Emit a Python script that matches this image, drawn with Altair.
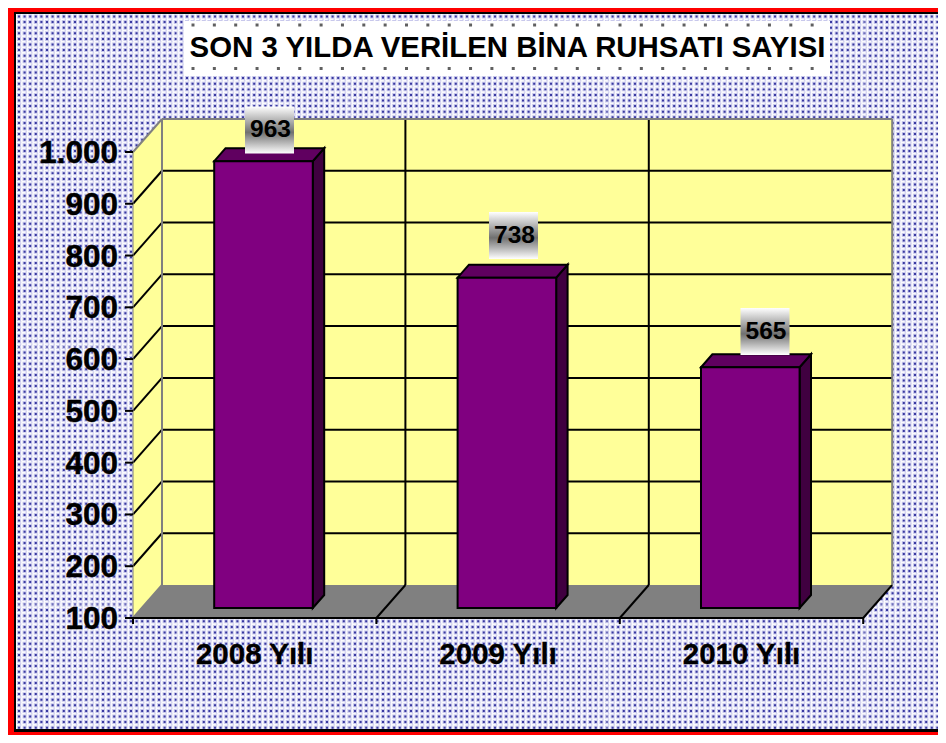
import altair as alt
import pandas as pd

# ---- chart values
years = ["2008 Yılı", "2009 Yılı", "2010 Yılı"]
permits = [963, 738, 565]
value_labels = ["963", "738", "565"]
tick_values = [100, 200, 300, 400, 500, 600, 700, 800, 900, 1000]
tick_labels = ["100", "200", "300", "400", "500", "600", "700", "800", "900", "1.000"]
title_text = "SON 3 YILDA VERİLEN BİNA RUHSATI SAYISI"

# ---- page geometry (image px) and the two scales
W, H = 930, 727
X0, CAT_W = 133.0, 243.4
Y0, PX_PER_VAL = 618.0, 0.5178
DEPTH_X = 29 / CAT_W        # oblique projection of the depth axis, in category units
DEPTH_Y = 33 / PX_PER_VAL   # ... and in value units


def ux(px):
    return (px - X0) / CAT_W


def uy(py):
    return 100 + (Y0 - py) / PX_PER_VAL


xs = alt.Scale(domain=[ux(8), ux(8 + W)], range=[0, W], nice=False, zero=False)
ys = alt.Scale(domain=[uy(8 + H), uy(8)], range=[H, 0], nice=False, zero=False)
X = lambda f="x": alt.X(f"{f}:Q", scale=xs, axis=None)
Y = lambda f="y": alt.Y(f"{f}:Q", scale=ys, axis=None)
X2 = alt.X2("x2:Q")
Y2 = alt.Y2("y2:Q")


def rects(rows, **mk):
    return alt.Chart(pd.DataFrame(rows)).mark_rect(**mk).encode(x=X(), x2=X2, y=Y(), y2=Y2)


def box(l, t, r, b):
    return dict(x=ux(l), x2=ux(r), y=uy(t), y2=uy(b))


def hrules(rows, **mk):
    return alt.Chart(pd.DataFrame(rows)).mark_rule(**mk).encode(x=X(), x2=X2, y=Y())


def vrules(rows, **mk):
    return alt.Chart(pd.DataFrame(rows)).mark_rule(**mk).encode(x=X(), y=Y(), y2=Y2)


def segs(rows, **mk):
    recs = []
    for i, (a, b, c, d) in enumerate(rows):
        recs += [dict(k=i, o=0, x=a, y=b), dict(k=i, o=1, x=c, y=d)]
    return alt.Chart(pd.DataFrame(recs)).mark_line(**mk).encode(
        x=X(), y=Y(), detail="k:N", order="o:Q")


def vpara(rows, **mk):  # vertical-sided parallelograms
    recs = []
    for i, (xa, ya, ya2, xb, yb, yb2) in enumerate(rows):
        recs += [dict(k=i, x=xa, y=ya, y2=ya2), dict(k=i, x=xb, y=yb, y2=yb2)]
    return alt.Chart(pd.DataFrame(recs)).mark_area(orient="vertical", **mk).encode(
        x=X(), y=Y(), y2=Y2, detail="k:N")


def hpara(rows, **mk):  # horizontal-sided parallelograms
    recs = []
    for i, (ya, xa, xa2, yb, xb, xb2) in enumerate(rows):
        recs += [dict(k=i, y=ya, x=xa, x2=xa2), dict(k=i, y=yb, x=xb, x2=xb2)]
    return alt.Chart(pd.DataFrame(recs)).mark_area(orient="horizontal", **mk).encode(
        y=Y(), x=X(), x2=X2, detail="k:N")


RIGHT, BOTTOM = 8 + W, 8 + H
layers = []

# ---- background and frame
layers.append(rects([box(8, 8, RIGHT, BOTTOM)], color="#FAFAFE"))
PITCH = 5.6
lattice = [dict(x=ux(17), x2=ux(RIGHT), y=uy(16.5 + i * PITCH)) for i in range(128)]
stagger = [dict(x=ux(17 + PITCH / 2), x2=ux(RIGHT), y=uy(16.5 + PITCH / 2 + i * PITCH)) for i in range(128)]
layers.append(hrules(lattice, color="#C8C8EC", strokeWidth=4, strokeDash=[4, 1.6]))
layers.append(hrules(stagger, color="#D4D4F0", strokeWidth=1.6, strokeDash=[1.6, 4]))
layers.append(hrules(lattice, color="#3A3AA0", strokeWidth=2, strokeDash=[2, 3.6], strokeDashOffset=-1))
seam_y = [88, 175, 261, 347, 433, 519, 605, 692]
seam_x = [91, 177, 263, 349, 435, 521, 607, 693, 779, 865]
layers.append(hrules([dict(x=ux(16), x2=ux(RIGHT), y=uy(v)) for v in seam_y], color="#FFFFFF", strokeWidth=1, opacity=0.55))
layers.append(vrules([dict(x=ux(v), y=uy(14), y2=uy(732)) for v in seam_x], color="#FFFFFF", strokeWidth=1, opacity=0.55))

layers.append(rects([box(8, 8, 14, BOTTOM), box(8, 8, RIGHT, 12), box(8, BOTTOM - 3, RIGHT, BOTTOM)], color="#FF0000"))
layers.append(rects([box(14, 12, 16, BOTTOM - 3), box(14, 12, RIGHT, 14), box(14, BOTTOM - 6, RIGHT, BOTTOM - 3)], color="#000000"))

# ---- title box
layers.append(rects([box(184, 21, 830, 76)], color="#FFFFFF"))
dot_rows = []
for row_y in (25, 68.5):
    for k in range(30):
        dot_rows.append(dict(x=ux(193 + k * 21.35), y=uy(row_y)))
layers.append(alt.Chart(pd.DataFrame(dot_rows)).mark_point(
    filled=True, color="#606060", size=9, opacity=1, shape="square").encode(x=X(), y=Y()))
layers.append(alt.Chart(pd.DataFrame([dict(x=ux(507.5), y=uy(48), t=title_text)])).mark_text(
    font="Liberation Sans", fontWeight="bold", fontSize=29.4, align="center", baseline="middle", color="#000000"
).encode(x=X(), y=Y(), text="t:N"))

# ---- 3D box: walls, floor, grid
xL, xR = 0.0, float(len(years))
vMin, vMax = tick_values[0], tick_values[-1]
YEL, GRAY = "#FFFF99", "#808080"
GRID_W = 2
layers.append(rects([dict(x=xL + DEPTH_X, x2=xR + DEPTH_X, y=vMin + DEPTH_Y, y2=vMax + DEPTH_Y)], color=YEL))
layers.append(vpara([(xL, vMin, vMax, xL + DEPTH_X, vMin + DEPTH_Y, vMax + DEPTH_Y)], fill=YEL))
layers.append(hpara([(vMin, xL, xR, vMin + DEPTH_Y, xL + DEPTH_X, xR + DEPTH_X)], fill=GRAY))
# wall grid
layers.append(hrules([dict(x=xL + DEPTH_X, x2=xR + DEPTH_X, y=v + DEPTH_Y) for v in tick_values[1:-1]], color="#000000", strokeWidth=GRID_W))
layers.append(segs([(xL, v, xL + DEPTH_X, v + DEPTH_Y) for v in tick_values[1:-1]], color="#000000", strokeWidth=GRID_W))
layers.append(vrules([dict(x=i + DEPTH_X, y=vMin + DEPTH_Y, y2=vMax + DEPTH_Y) for i in (1, 2)], color="#000000", strokeWidth=GRID_W))
layers.append(segs([(i, vMin, i + DEPTH_X, vMin + DEPTH_Y) for i in (1, 2, 3)], color="#000000", strokeWidth=GRID_W))
# wall edges (gray)
layers.append(vrules([dict(x=xL + DEPTH_X, y=vMin + DEPTH_Y, y2=vMax + DEPTH_Y), dict(x=xR + DEPTH_X, y=vMin + DEPTH_Y, y2=vMax + DEPTH_Y)], color=GRAY, strokeWidth=2))
layers.append(hrules([dict(x=xL + DEPTH_X, x2=xR + DEPTH_X, y=vMax + DEPTH_Y)], color=GRAY, strokeWidth=2))
layers.append(segs([(xL, vMax, xL + DEPTH_X, vMax + DEPTH_Y), (xL, vMin, xL + DEPTH_X, vMin + DEPTH_Y)], color=GRAY, strokeWidth=2))
layers.append(vrules([dict(x=xL, y=vMin, y2=vMax)], color=GRAY, strokeWidth=1))
# axis
TICK_X = 8 / CAT_W
TICK_Y = 6 / PX_PER_VAL
layers.append(hrules([dict(x=xL - TICK_X, x2=xR, y=v) for v in tick_values[:1]], color="#000000", strokeWidth=2))
layers.append(hrules([dict(x=xL - TICK_X, x2=xL, y=v) for v in tick_values[1:]], color="#000000", strokeWidth=GRID_W))
layers.append(vrules([dict(x=float(i), y=vMin, y2=vMin - TICK_Y) for i in range(4)], color="#000000", strokeWidth=GRID_W))

# ---- bars
BAR_W = 0.405
D0, D1 = 10 / 33, 23 / 33
bar_l = [i + (1 - BAR_W) / 2 for i in range(3)]
PURPLE, PTOP, PSIDE = "#800080", "#600060", "#400040"
stroke = dict(stroke="#000000", strokeWidth=2)
# side faces
layers.append(vpara([
    (l + BAR_W + D0 * DEPTH_X, vMin + D0 * DEPTH_Y, v + D0 * DEPTH_Y,
     l + BAR_W + D1 * DEPTH_X, vMin + D1 * DEPTH_Y, v + D1 * DEPTH_Y)
    for l, v in zip(bar_l, permits)], fill=PSIDE, **stroke))
# top faces
layers.append(hpara([
    (v + D0 * DEPTH_Y, l + D0 * DEPTH_X, l + BAR_W + D0 * DEPTH_X,
     v + D1 * DEPTH_Y, l + D1 * DEPTH_X, l + BAR_W + D1 * DEPTH_X)
    for l, v in zip(bar_l, permits)], fill=PTOP, **stroke))
# front faces
layers.append(rects([
    dict(x=l + D0 * DEPTH_X, x2=l + BAR_W + D0 * DEPTH_X, y=vMin + D0 * DEPTH_Y, y2=v + D0 * DEPTH_Y)
    for l, v in zip(bar_l, permits)], color=PURPLE, **stroke))

# ---- value labels with their gradient plates
label_x_px = [269.5, 513.5, 765]
label_y_px = [130, 235.5, 331.5]
PLATE_W, PLATE_H = 49, 47
grad = alt.Gradient(gradient="linear", x1=0, y1=0, x2=0, y2=1, stops=[
    alt.GradientStop(offset=0, color="#FFFFFF"),
    alt.GradientStop(offset=0.55, color="#707070"),
    alt.GradientStop(offset=1, color="#FFFFFF"),
])
layers.append(rects([box(a - PLATE_W / 2, b - PLATE_H / 2, a + PLATE_W / 2, b + PLATE_H / 2)
                     for a, b in zip(label_x_px, label_y_px)], color=grad))
layers.append(alt.Chart(pd.DataFrame(dict(x=[ux(a + 1) for a in label_x_px], y=[uy(b) for b in label_y_px], t=value_labels))).mark_text(
    font="Liberation Sans", fontWeight="bold", fontSize=24.5, align="center", baseline="middle", color="#000000"
).encode(x=X(), y=Y(), text="t:N"))

# ---- axis labels
layers.append(alt.Chart(pd.DataFrame(dict(x=[ux(118)] * len(tick_values), y=[v - 2 / PX_PER_VAL for v in tick_values], t=tick_labels))).mark_text(
    font="Liberation Sans", fontWeight="bold", fontSize=31.5, align="right", baseline="middle", color="#000000",
    stroke="#000000", strokeWidth=0.4
).encode(x=X(), y=Y(), text="t:N"))
layers.append(alt.Chart(pd.DataFrame(dict(x=[i + 0.5 for i in range(3)], y=[uy(655)] * 3, t=years))).mark_text(
    font="Liberation Sans", fontWeight="bold", fontSize=29.5, align="center", baseline="middle", color="#000000",
    stroke="#000000", strokeWidth=0.3
).encode(x=X(), y=Y(), text="t:N"))

chart = alt.layer(*layers).properties(
    width=W, height=H, padding=0, autosize=alt.AutoSizeParams(type="none")
).configure_view(stroke=None)

chart.save("out.html", embed_options={"renderer": "svg", "actions": False})
